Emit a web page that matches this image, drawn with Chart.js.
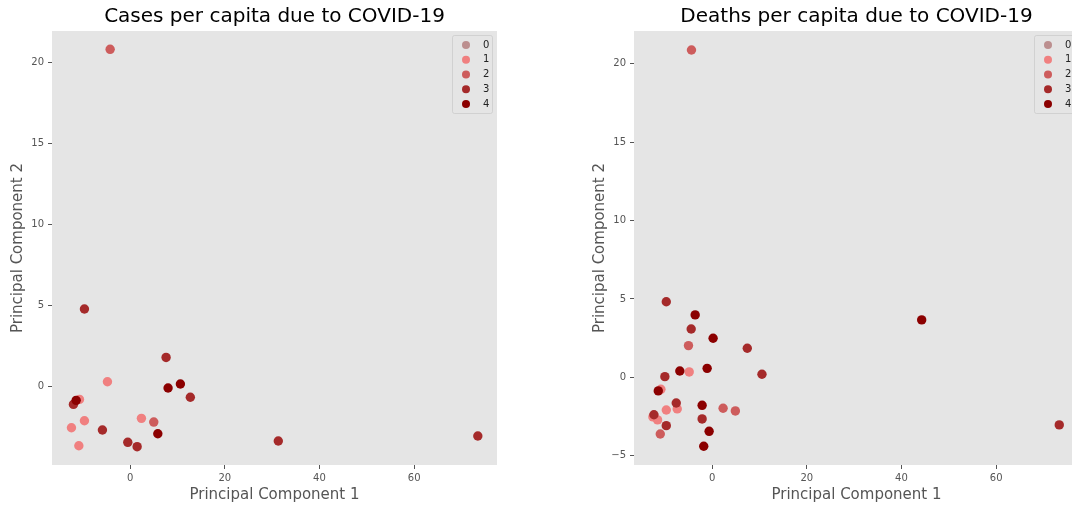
<!DOCTYPE html>
<html><head><meta charset="utf-8">
<script src="https://cdn.jsdelivr.net/npm/chart.js@4.4.1/dist/chart.umd.min.js"></script>
<style>
html,body{margin:0;padding:0;background:#fff;overflow:hidden;width:1072px;height:505px;}
#c1{position:absolute;left:0;top:0;}
#c2{position:absolute;left:582px;top:0;}
</style></head><body>
<canvas id="c1" width="520" height="505"></canvas>
<canvas id="c2" width="520" height="505"></canvas>
<script>
const clusterLabels = ['0','1','2','3','4'];
const clusterColors = ['#bc8f8f','#f08080','#cd5c5c','#a52a2a','#8b0000'];
const xTicks = [0, 20, 40, 60];
const casesYTicks = [0, 5, 10, 15, 20];
const deathsYTicks = [-5, 0, 5, 10, 15, 20];

// Cases per capita: [PC1, PC2] per cluster
const casesCluster0 = [];
const casesCluster1 = [[-4.79,0.31],[-10.70,-0.78],[-9.65,-2.10],[-12.39,-2.53],[2.39,-1.95],[-10.83,-3.64]];
const casesCluster2 = [[5.00,-2.18],[-4.22,20.83]];
const casesCluster3 = [[-9.65,4.80],[7.60,1.81],[12.72,-0.65],[-11.97,-1.09],[-5.85,-2.67],[-0.49,-3.43],[1.48,-3.70],[31.3,-3.35],[73.45,-3.04]];
const casesCluster4 = [[8.02,-0.08],[10.62,0.17],[-11.40,-0.84],[5.85,-2.90]];

// Deaths per capita: [PC1, PC2] per cluster
const deathsCluster0 = [];
const deathsCluster1 = [[-4.84,0.34],[-10.82,-0.77],[-9.68,-2.09],[-7.37,-2.02],[-12.51,-2.53],[-11.52,-2.72]];
const deathsCluster2 = [[-4.99,2.02],[2.32,-1.98],[4.91,-2.15],[-10.95,-3.62],[-4.36,20.89]];
const deathsCluster3 = [[-9.68,4.82],[-4.42,3.08],[7.43,1.85],[10.53,0.19],[-9.98,0.04],[-7.58,-1.64],[-12.29,-2.39],[-2.11,-2.66],[-9.68,-3.09],[73.33,-3.04]];
const deathsCluster4 = [[-3.58,3.98],[0.21,2.49],[-6.82,0.40],[-1.05,0.57],[-11.37,-0.87],[-2.11,-1.79],[-0.63,-3.45],[-1.77,-4.40],[44.27,3.66]];

const FONT = "'DejaVu Sans', sans-serif";
const fmt = v => (v < 0 ? '\u2212' + Math.abs(v) : String(v));

const bgPlugin = {
  id: 'plotBg',
  beforeDraw(chart) {
    const {ctx, chartArea: a} = chart;
    ctx.save();
    ctx.fillStyle = '#E5E5E5';
    ctx.fillRect(a.left, a.top, a.right - a.left, a.bottom - a.top);
    ctx.restore();
  }
};

const legendPlugin = {
  id: 'boxLegend',
  afterDatasetsDraw(chart) {
    const {ctx, chartArea: a} = chart;
    const x0 = a.right - 45, y0 = a.top + 4, w = 40, h = 78;
    ctx.save();
    ctx.fillStyle = 'rgba(229,229,229,0.8)';
    ctx.strokeStyle = 'rgba(204,204,204,0.8)';
    ctx.lineWidth = 1;
    ctx.beginPath();
    ctx.roundRect(x0 + 0.5, y0 + 0.5, w, h, 2);
    ctx.fill();
    ctx.stroke();
    ctx.font = '10px ' + FONT;
    ctx.textBaseline = 'middle';
    ctx.textAlign = 'left';
    clusterLabels.forEach((lab, i) => {
      const yy = y0 + 10 + i * 14.75;
      ctx.fillStyle = clusterColors[i];
      ctx.beginPath();
      ctx.arc(a.right - 31, yy, 4, 0, Math.PI * 2);
      ctx.fill();
      ctx.fillStyle = '#222';
      ctx.fillText(lab, a.right - 14, yy);
    });
    ctx.restore();
  }
};

function makeChart(id, title, clusters, yTicks, yMin, yMax) {
  const datasets = clusters.map((pts, i) => ({
    label: clusterLabels[i],
    data: pts.map(([x, y]) => ({x, y})),
    backgroundColor: clusterColors[i],
    borderWidth: 0,
    pointRadius: 4.7,
    pointHoverRadius: 4.7,
    order: clusters.length - 1 - i
  }));
  return new Chart(document.getElementById(id), {
    type: 'scatter',
    data: {datasets},
    plugins: [bgPlugin, legendPlugin],
    options: {
      responsive: false,
      animation: false,
      events: [],
      devicePixelRatio: 1,
      layout: {padding: {left: 0, right: 23, top: 0, bottom: 0}},
      plugins: {
        legend: {display: false},
        tooltip: {enabled: false},
        title: {
          display: true, text: title, color: '#000', fullSize: false,
          font: {family: FONT, size: 20, weight: 'normal', lineHeight: 1.2},
          padding: {top: 5, bottom: 2}
        }
      },
      scales: {
        x: {
          type: 'linear', min: -16.5, max: 77.5,
          afterBuildTicks: s => { s.ticks = xTicks.map(v => ({value: v})); },
          afterFit: s => { s.height = 40; },
          ticks: {color: '#555', font: {family: FONT, size: 10}, padding: 3, maxRotation: 0, autoSkip: false, callback: v => fmt(v)},
          grid: {display: true, drawOnChartArea: false, drawTicks: true, tickLength: 4, tickColor: '#555'},
          border: {display: false},
          title: {display: true, text: 'Principal Component 1', color: '#555', font: {family: FONT, size: 15, lineHeight: 1.2}, padding: {top: 0, bottom: 1}}
        },
        y: {
          type: 'linear', min: yMin, max: yMax,
          afterBuildTicks: s => { s.ticks = yTicks.map(v => ({value: v})); },
          afterFit: s => { s.width = 52; },
          ticks: {color: '#555', font: {family: FONT, size: 10}, padding: 4, autoSkip: false, callback: v => fmt(v)},
          grid: {display: true, drawOnChartArea: false, drawTicks: true, tickLength: 4, tickColor: '#555'},
          border: {display: false},
          title: {display: true, text: 'Principal Component 2', color: '#555', font: {family: FONT, size: 15, lineHeight: 1.2}, padding: {top: 9.5, bottom: 0}}
        }
      }
    }
  });
}

makeChart('c1', 'Cases per capita due to COVID-19',
  [casesCluster0, casesCluster1, casesCluster2, casesCluster3, casesCluster4],
  casesYTicks, -4.83, 21.96);
makeChart('c2', 'Deaths per capita due to COVID-19',
  [deathsCluster0, deathsCluster1, deathsCluster2, deathsCluster3, deathsCluster4],
  deathsYTicks, -5.6, 22.1);
</script>
</body></html>
